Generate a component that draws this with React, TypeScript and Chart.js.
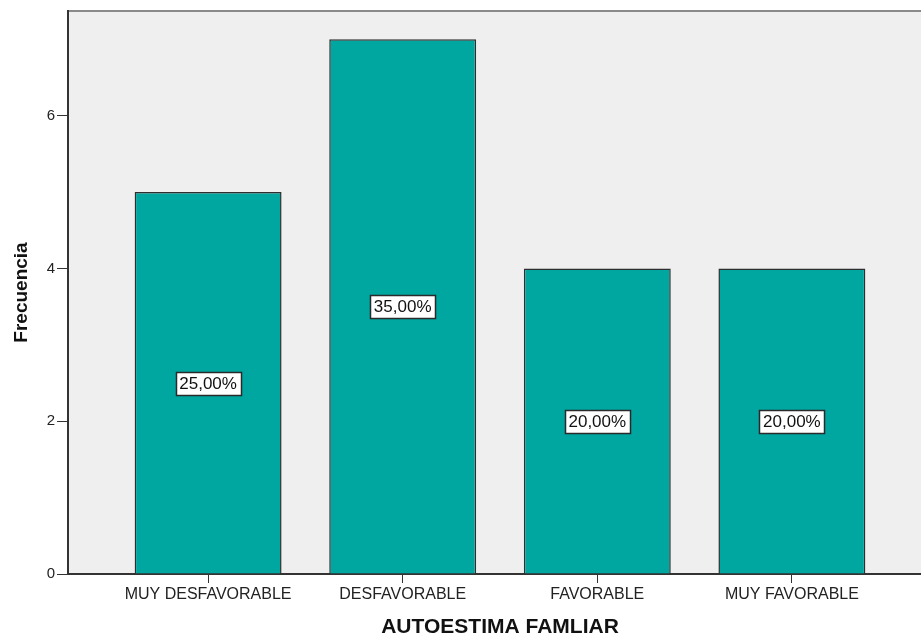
import React, { useEffect, useRef } from "react";
import { Chart, registerables } from "chart.js";

Chart.register(...registerables);

const categories = ["MUY DESFAVORABLE", "DESFAVORABLE", "FAVORABLE", "MUY FAVORABLE"];
const counts = [5, 7, 4, 4];
const percentLabels = ["25,00%", "35,00%", "20,00%", "20,00%"];
const yTicks = [0, 2, 4, 6];

const FONT = "'Liberation Sans', Arial, sans-serif";

const plotDecor = {
  id: "plotDecor",
  beforeDraw(chart: any) {
    const { ctx, chartArea } = chart;
    ctx.save();
    ctx.fillStyle = "#efefef";
    ctx.fillRect(chartArea.left, chartArea.top, chartArea.right - chartArea.left, chartArea.bottom - chartArea.top);
    ctx.strokeStyle = "#8a8a8a";
    ctx.lineWidth = 2;
    ctx.beginPath();
    ctx.moveTo(chartArea.left, chartArea.top);
    ctx.lineTo(chartArea.right, chartArea.top);
    ctx.stroke();
    ctx.restore();
  },
  afterDatasetsDraw(chart: any) {
    const { ctx } = chart;
    const meta = chart.getDatasetMeta(0);
    const yScale = chart.scales.y;
    ctx.save();
    ctx.font = `17px ${FONT}`;
    ctx.textAlign = "center";
    ctx.textBaseline = "middle";
    meta.data.forEach((el: any, i: number) => {
      const x = el.x;
      const y = yScale.getPixelForValue(counts[i] / 2);
      const w = Math.round(ctx.measureText(percentLabels[i]).width + 7);
      const h = 23;
      const bx = Math.round(x - w / 2) + 0.5;
      const by = Math.round(y - h / 2) + 0.5;
      ctx.fillStyle = "#ffffff";
      ctx.fillRect(bx, by, w, h);
      ctx.strokeStyle = "#2a2a2a";
      ctx.lineWidth = 1.5;
      ctx.strokeRect(bx, by, w, h);
      ctx.fillStyle = "#111111";
      ctx.fillText(percentLabels[i], x, y + 1);
    });
    ctx.restore();
  },
};

export default function App() {
  const ref = useRef<HTMLCanvasElement | null>(null);
  useEffect(() => {
    if (!ref.current) return;
    const chart = new Chart(ref.current, {
      type: "bar",
      data: {
        datasets: [
          {
            data: counts.map((c, i) => ({ x: i, y: c })),
            backgroundColor: "#00a6a0",
            borderColor: "#2e2e2e",
            borderWidth: 1.5,
            barPercentage: 0.755,
            categoryPercentage: 1,
          },
        ],
      },
      options: {
        responsive: false,
        animation: false,
        layout: { padding: { top: 11, left: 0, right: 0, bottom: 0 } },
        plugins: { legend: { display: false }, tooltip: { enabled: false } },
        scales: {
          x: {
            type: "linear",
            min: -0.72,
            max: 3.72,
            offset: false,
            afterFit: (s: any) => {
              s.height = 71;
            },
            afterBuildTicks: (s: any) => {
              s.ticks = categories.map((_, i) => ({ value: i }));
            },
            ticks: {
              includeBounds: false,
              autoSkip: false,
              maxRotation: 0,
              padding: 2,
              color: "#222",
              font: { family: FONT, size: 16 },
              callback: (v: any) => categories[v] ?? "",
            },
            grid: { display: true, drawOnChartArea: false, drawTicks: true, tickLength: 9, tickColor: "#333", offset: false },
            border: { display: true, color: "#333", width: 2 },
            title: {
              display: true,
              text: "AUTOESTIMA FAMLIAR",
              color: "#111",
              font: { family: FONT, size: 21, weight: "bold", lineHeight: 1.2 },
              padding: { top: 0, bottom: 5 },
            },
          },
          y: {
            type: "linear",
            min: 0,
            max: 7.37,
            afterFit: (s: any) => {
              s.width = 68;
            },
            afterBuildTicks: (s: any) => {
              s.ticks = yTicks.map((v) => ({ value: v }));
            },
            ticks: {
              includeBounds: false,
              padding: 2,
              color: "#222",
              font: { family: FONT, size: 15 },
            },
            grid: { display: true, drawOnChartArea: false, drawTicks: true, tickLength: 11, tickColor: "#333" },
            border: { display: true, color: "#333", width: 2 },
            title: {
              display: true,
              text: "Frecuencia",
              color: "#111",
              font: { family: FONT, size: 19, weight: "bold", lineHeight: 1.2 },
              padding: { top: 10, bottom: 0 },
            },
          },
        },
      },
      plugins: [plotDecor],
    } as any);
    return () => chart.destroy();
  }, []);
  return (
    <div style={{ position: "absolute", left: 0, top: 0, width: 921, height: 635, overflow: "hidden", background: "#fff" }}>
      <canvas ref={ref} width={932} height={645} style={{ display: "block" }} />
    </div>
  );
}
